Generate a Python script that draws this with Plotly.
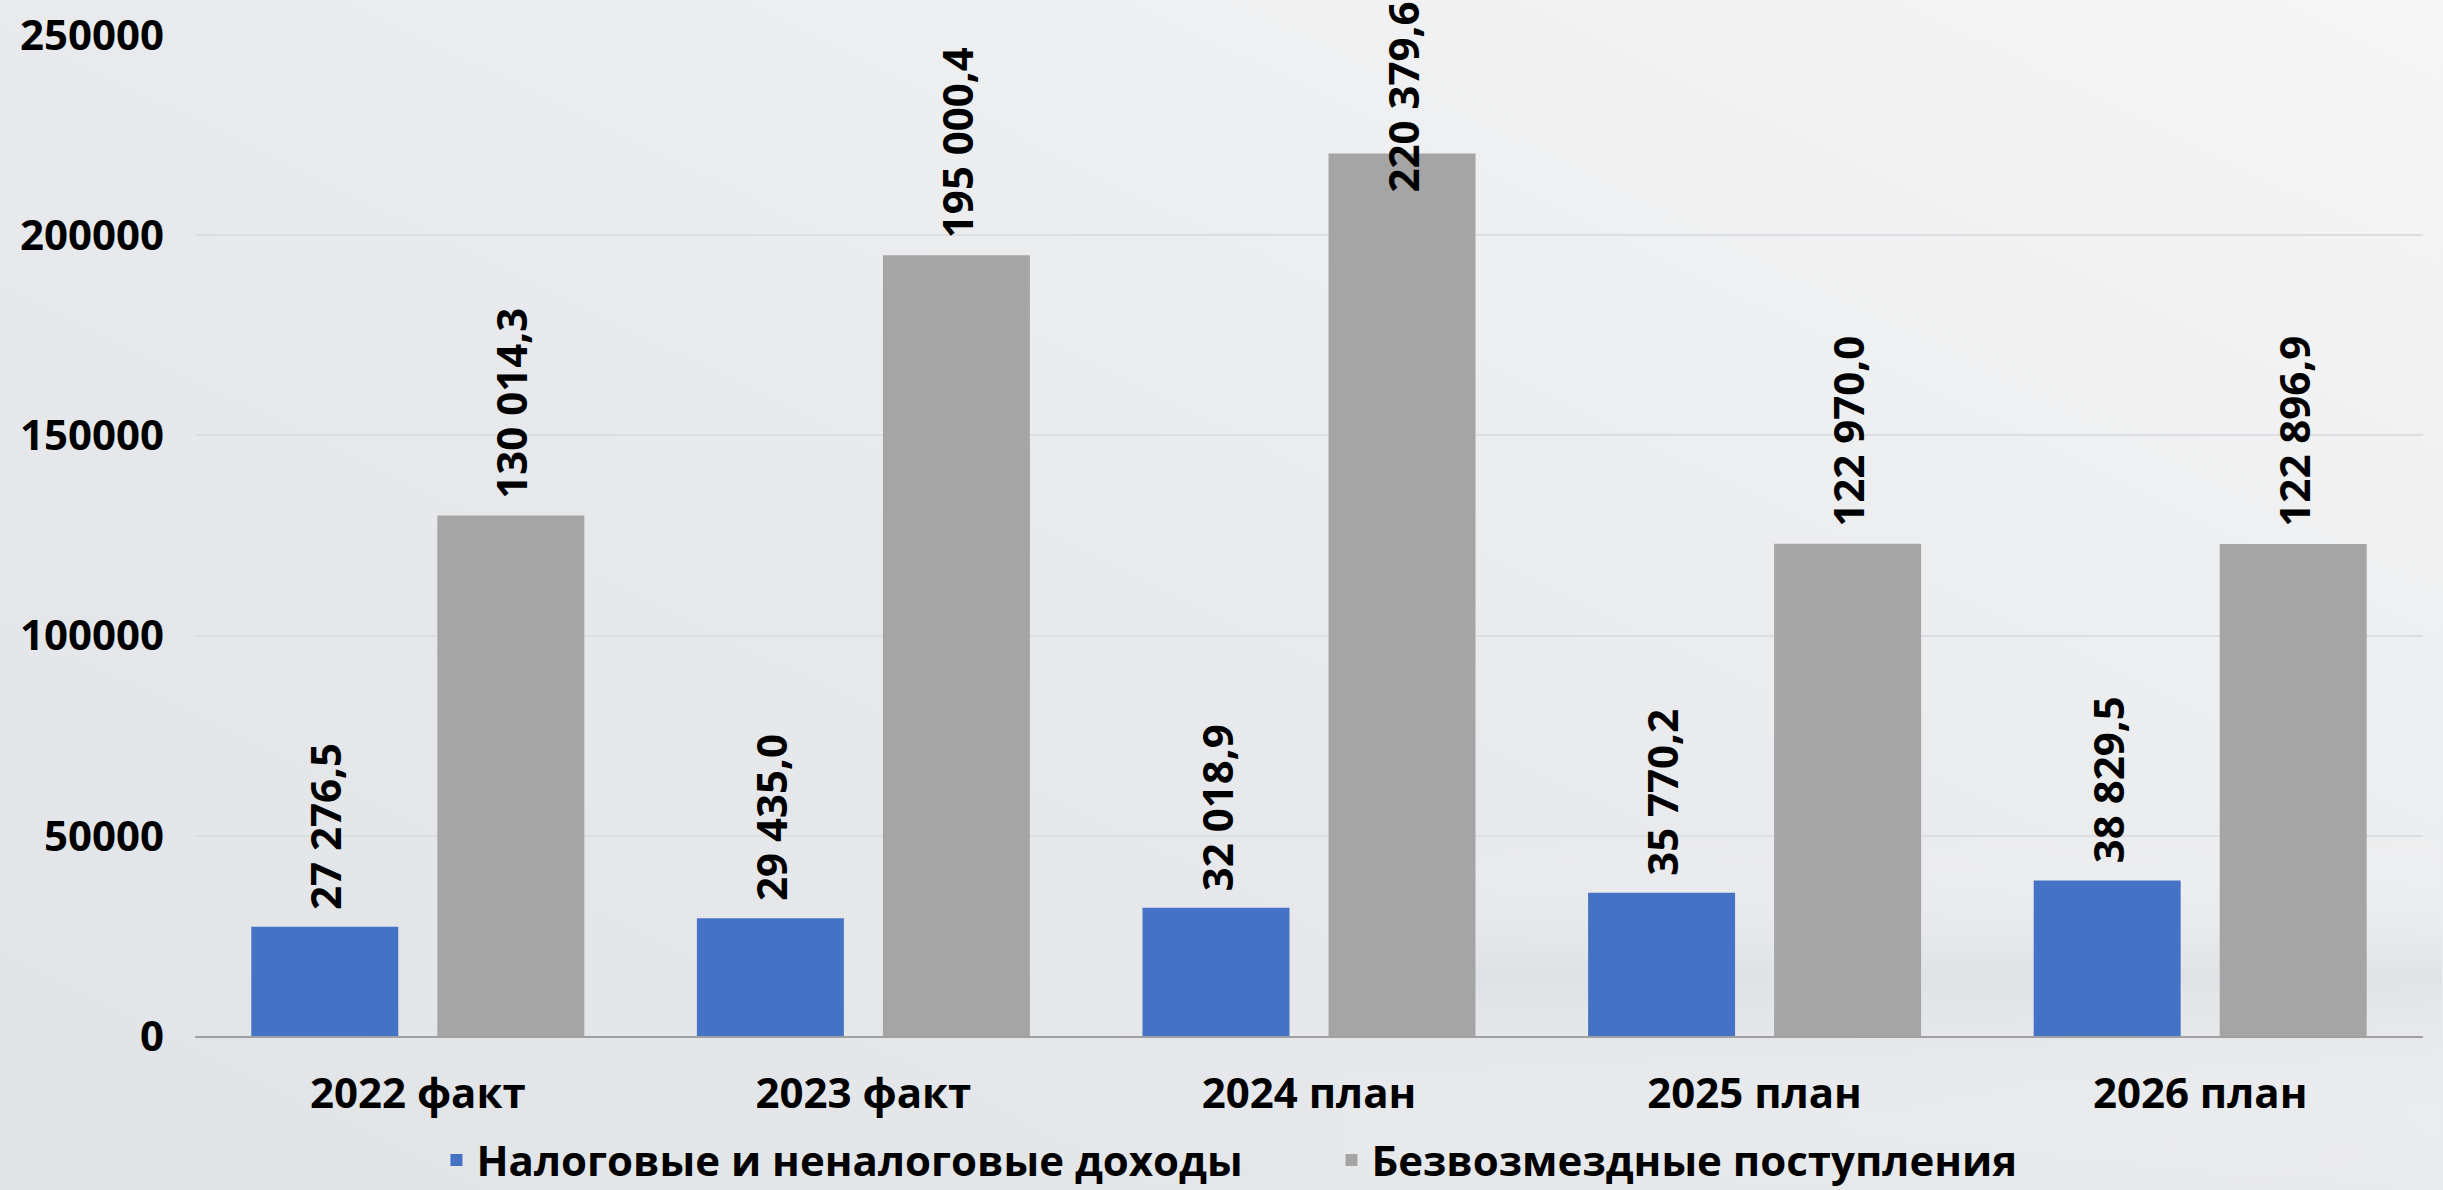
import base64
import plotly.graph_objects as go

# ---- data ----
categories = ["2022 факт", "2023 факт", "2024 план", "2025 план", "2026 план"]
series_names = ["Налоговые и неналоговые доходы", "Безвозмездные поступления"]
tax_income = [27276.5, 29435.0, 32018.9, 35770.2, 38829.5]
gratuitous = [130014.3, 195000.4, 220379.6, 122970.0, 122896.9]
y_ticks = [0, 50000, 100000, 150000, 200000, 250000]

# ---- layout constants ----
W, H = 2443, 1190
L, R, T, B = 195, 20, 35, 154
PW, PH = W - L - R, H - T - B
YMAX = 250000
BARGAP, GROUPGAP = 0.165, 0.21
COLORS = ["#4472C4", "#A5A5A5"]
FONT = "Open Sans, Roboto, DejaVu Sans, sans-serif"
BG = "#E9EBEE"


def fmt(v):
    return f"{v:,.1f}".replace(",", " ").replace(".", ",")


fig = go.Figure()
for name, vals, col in zip(series_names, [tax_income, gratuitous], COLORS):
    fig.add_trace(go.Bar(name=name, x=categories, y=vals, marker=dict(color=col, line=dict(width=0)),
                         hoverinfo="x+y"))

# data labels (rotated, above bars, pushed down if they would leave the page)
px_per_unit = PH / YMAX
top_val = YMAX + T / px_per_unit
label_span_px = 192
shift_px = 16
offset = (1 - BARGAP) / 4
annotations = []
for s, vals in enumerate([tax_income, gratuitous]):
    for i, v in enumerate(vals):
        y_lab = min(v + shift_px / px_per_unit, top_val - (label_span_px + 2) / px_per_unit)
        annotations.append(dict(
            x=i + (-offset if s == 0 else offset), y=y_lab, xref="x", yref="y",
            text=fmt(v), showarrow=False, textangle=-90,
            xanchor="center", yanchor="bottom", borderpad=0,
            font=dict(family=FONT, size=42, color="#000000", weight=700),
        ))

# soft background gradient
svg = f'''<svg xmlns="http://www.w3.org/2000/svg" width="{W}" height="{H}" viewBox="0 0 {W} {H}" preserveAspectRatio="none">
<defs>
<linearGradient id="g" x1="0" y1="1" x2="1" y2="0">
<stop offset="0" stop-color="#E1E4E7"/>
<stop offset="0.45" stop-color="#E7E9EC"/>
<stop offset="0.75" stop-color="#EFF0F1"/>
<stop offset="1" stop-color="#F6F6F6"/>
</linearGradient>
<linearGradient id="h" x1="0" y1="0" x2="0" y2="1">
<stop offset="0" stop-color="#FFFFFF" stop-opacity="0"/>
<stop offset="0.70" stop-color="#FFFFFF" stop-opacity="0"/>
<stop offset="0.82" stop-color="#D5D9DE" stop-opacity="0.45"/>
<stop offset="1" stop-color="#FFFFFF" stop-opacity="0"/>
</linearGradient>
</defs>
<rect width="{W}" height="{H}" fill="url(#g)"/>
<rect x="{int(W*0.55)}" width="{int(W*0.45)}" height="{H}" fill="url(#h)"/>
</svg>'''
src = "data:image/svg+xml;base64," + base64.b64encode(svg.encode()).decode()

fig.update_layout(
    width=W, height=H,
    margin=dict(l=L, r=R, t=T, b=B, autoexpand=False),
    paper_bgcolor=BG,
    plot_bgcolor="rgba(0,0,0,0)",
    barmode="group", bargap=BARGAP, bargroupgap=GROUPGAP,
    font=dict(family=FONT, size=42, color="#000000", weight=700),
    showlegend=True,
    legend=dict(orientation="h", xref="container", yref="container",
                x=0.545, y=0.025, xanchor="center", yanchor="middle",
                font=dict(family=FONT, size=42, color="#000000", weight=700),
                bgcolor="rgba(0,0,0,0)", entrywidth=850, tracegroupgap=0),
    annotations=annotations,
    images=[dict(source=src, xref="paper", yref="paper",
                 x=-L / PW, y=1 + T / PH, sizex=W / PW, sizey=H / PH,
                 xanchor="left", yanchor="top", sizing="stretch", layer="below")],
)
fig.update_xaxes(type="category", showgrid=False, showline=True, linecolor="#A0A0A0", linewidth=2,
                 ticks="", ticklabelstandoff=20, zeroline=False, automargin=False,
                 tickfont=dict(family=FONT, size=42, color="#000000", weight=700))
fig.update_yaxes(range=[0, YMAX], tickmode="array", tickvals=y_ticks,
                 ticktext=[str(t) for t in y_ticks], automargin=False,
                 showgrid=True, gridcolor="#DCDEE1", gridwidth=2,
                 zeroline=False, showline=False, ticks="", ticklabelstandoff=30,
                 tickfont=dict(family=FONT, size=42, color="#000000", weight=700))

fig.write_html(
    "out.html",
    config={"displayModeBar": False},
    post_script=f"document.body.style.margin='0';document.body.style.background='{BG}';"
                "document.body.style.overflow='hidden';",
)
